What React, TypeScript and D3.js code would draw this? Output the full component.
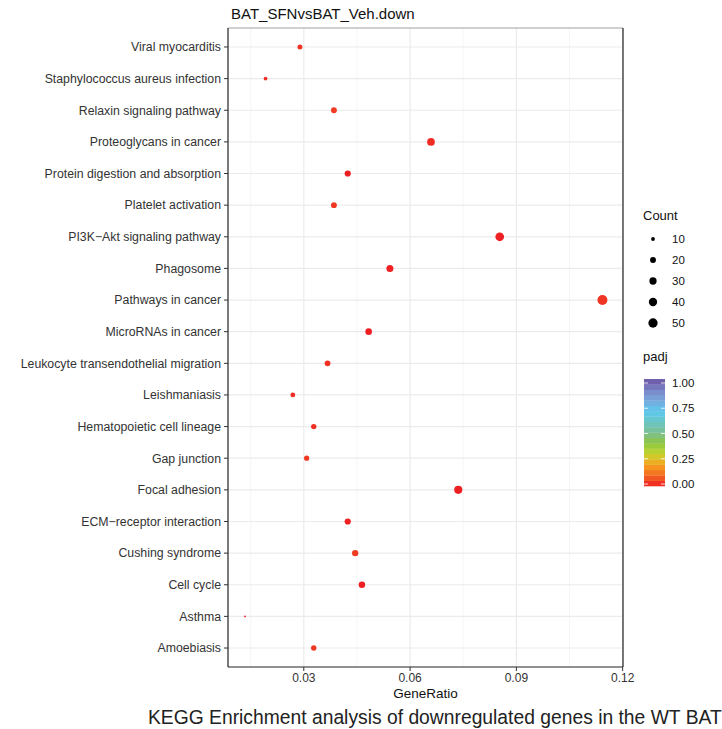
import React from 'react';
import * as d3 from 'd3';

const categories = [
  'Viral myocarditis',
  'Staphylococcus aureus infection',
  'Relaxin signaling pathway',
  'Proteoglycans in cancer',
  'Protein digestion and absorption',
  'Platelet activation',
  'PI3K\u2212Akt signaling pathway',
  'Phagosome',
  'Pathways in cancer',
  'MicroRNAs in cancer',
  'Leukocyte transendothelial migration',
  'Leishmaniasis',
  'Hematopoietic cell lineage',
  'Gap junction',
  'Focal adhesion',
  'ECM\u2212receptor interaction',
  'Cushing syndrome',
  'Cell cycle',
  'Asthma',
  'Amoebiasis',
];
const geneRatio = [0.0289, 0.0192, 0.0385, 0.0659, 0.0424, 0.0385, 0.0853, 0.0543, 0.1143, 0.0483,
  0.0367, 0.0269, 0.0328, 0.0308, 0.0736, 0.0424, 0.0445, 0.0464, 0.0134, 0.0328];
const counts = [15, 10, 20, 34, 22, 20, 44, 28, 59, 25, 19, 14, 17, 16, 38, 22, 23, 24, 7, 17];
const padj = [0.03, 0.025, 0.04, 0.02, 0.002, 0.035, 0.004, 0.005, 0.03, 0.003,
  0.025, 0.02, 0.025, 0.035, 0.003, 0.004, 0.04, 0.004, 0.002, 0.035];

const xTicks = [0.03, 0.06, 0.09, 0.12];
const xMinor = [0.015, 0.045, 0.075, 0.105];
const countBreaks = [10, 20, 30, 40, 50];
const padjBreaks = [0, 0.25, 0.5, 0.75, 1];
const paletteStops = [0, 0.1, 0.2, 0.3, 0.4, 0.5, 0.6, 0.7, 0.8, 0.9, 1];
const paletteColors = ['#EE1D23', '#F26A22', '#F7A21E', '#C6D52E', '#8DC63F', '#7DBF93',
  '#6AC6C4', '#5DC9EE', '#78A9DC', '#7A84C6', '#6B52A3'];

const FONT = '"Liberation Sans", Arial, Helvetica, sans-serif';

export default function App() {
  const width = 722;
  const height = 729;
  const panel = { left: 228, right: 623, top: 28, bottom: 667 };

  const x = d3.scaleLinear().domain([0.0086, 0.1201]).range([panel.left, panel.right]);
  const y = d3.scalePoint<string>().domain(categories).range([panel.top, panel.bottom]).padding(0.6);

  const cMin = d3.min(counts)!;
  const cMax = d3.max(counts)!;
  const rUnit = d3.scaleLinear().domain([0, 1]).range([0.9, 5]);
  const radius = (c: number) => rUnit(Math.sqrt(Math.max(0, (c - cMin) / (cMax - cMin))));

  const color = d3.scaleLinear<string>().domain(paletteStops).range(paletteColors).interpolate(d3.interpolateRgb);

  // colorbar
  const barTop = 379;
  const barBottom = 486;
  const barScale = d3.scaleLinear().domain([0, 1]).range([484, 383]);
  const nBins = 20;
  const bins = d3.range(nBins);
  const binH = (barBottom - barTop) / nBins;

  return (
    <svg width={width} height={height} style={{ position: 'absolute', left: 0, top: 0, background: '#fff' }}
      fontFamily={FONT}>
      <rect width={width} height={height} fill="#fff" />
      {/* title */}
      <text x={panel.left + 3} y={19} fontSize={15} fill="#111">BAT_SFNvsBAT_Veh.down</text>

      {/* grid */}
      {xMinor.map(v => (
        <line key={'mx' + v} x1={x(v)} x2={x(v)} y1={panel.top} y2={panel.bottom} stroke="#f2f2f2" strokeWidth={0.7} />
      ))}
      {xTicks.map(v => (
        <line key={'gx' + v} x1={x(v)} x2={x(v)} y1={panel.top} y2={panel.bottom} stroke="#ebebeb" strokeWidth={1.2} />
      ))}
      {categories.map(c => (
        <line key={'gy' + c} x1={panel.left} x2={panel.right} y1={y(c)} y2={y(c)} stroke="#ebebeb" strokeWidth={1.2} />
      ))}

      {/* points */}
      {categories.map((c, i) => (
        <circle key={'p' + c} cx={x(geneRatio[i])} cy={y(c)} r={radius(counts[i])} fill={color(padj[i])} />
      ))}

      {/* border */}
      <line x1={panel.left} x2={panel.right} y1={panel.top} y2={panel.top} stroke="#a0a0a0" strokeWidth={1} />
      <line x1={panel.right} x2={panel.right} y1={panel.top} y2={panel.bottom} stroke="#222" strokeWidth={1.2} />
      <line x1={panel.left} x2={panel.left} y1={panel.top} y2={panel.bottom} stroke="#222" strokeWidth={1.2} />
      <line x1={panel.left} x2={panel.right} y1={panel.bottom} y2={panel.bottom} stroke="#222" strokeWidth={1.2} />

      {/* y axis */}
      {categories.map(c => (
        <g key={'yt' + c} transform={`translate(${panel.left},${y(c)})`}>
          <line x1={-4} x2={0} stroke="#333" />
          <text x={-7} dy="0.35em" textAnchor="end" fontSize={12.3} fill="#333">{c}</text>
        </g>
      ))}

      {/* x axis */}
      {xTicks.map(v => (
        <g key={'xt' + v} transform={`translate(${x(v)},${panel.bottom})`}>
          <line y1={0} y2={4} stroke="#333" />
          <text y={14.5} textAnchor="middle" fontSize={12} fill="#333">{d3.format('.2f')(v)}</text>
        </g>
      ))}
      <text x={(panel.left + panel.right) / 2} y={698} textAnchor="middle" fontSize={13.5} fill="#111">GeneRatio</text>

      {/* Count legend */}
      <text x={643} y={220} fontSize={13} fill="#111">Count</text>
      {countBreaks.map((b, i) => (
        <g key={'cl' + b} transform={`translate(653,${239 + i * 21})`}>
          <circle r={radius(b)} fill="#000" />
          <text x={19} dy="0.35em" fontSize={11.5} fill="#111">{b}</text>
        </g>
      ))}

      {/* padj legend */}
      <text x={643} y={361} fontSize={13} fill="#111">padj</text>
      {bins.map(i => (
        <rect key={'bin' + i} x={644} width={21} y={barBottom - (i + 1) * binH} height={binH + 0.3}
          fill={color((i + 0.5) / nBins)} />
      ))}
      {padjBreaks.map(b => (
        <g key={'pl' + b}>
          <line x1={644} x2={648} y1={barScale(b)} y2={barScale(b)} stroke="#fff" strokeWidth={0.8} />
          <line x1={661} x2={665} y1={barScale(b)} y2={barScale(b)} stroke="#fff" strokeWidth={0.8} />
          <text x={672} y={barScale(b)} dy="0.35em" fontSize={11.5} fill="#111">{d3.format('.2f')(b)}</text>
        </g>
      ))}

      {/* caption */}
      <text x={148} y={724} fontSize={19.3} fill="#222">KEGG Enrichment analysis of downregulated genes in the WT BAT</text>
    </svg>
  );
}
